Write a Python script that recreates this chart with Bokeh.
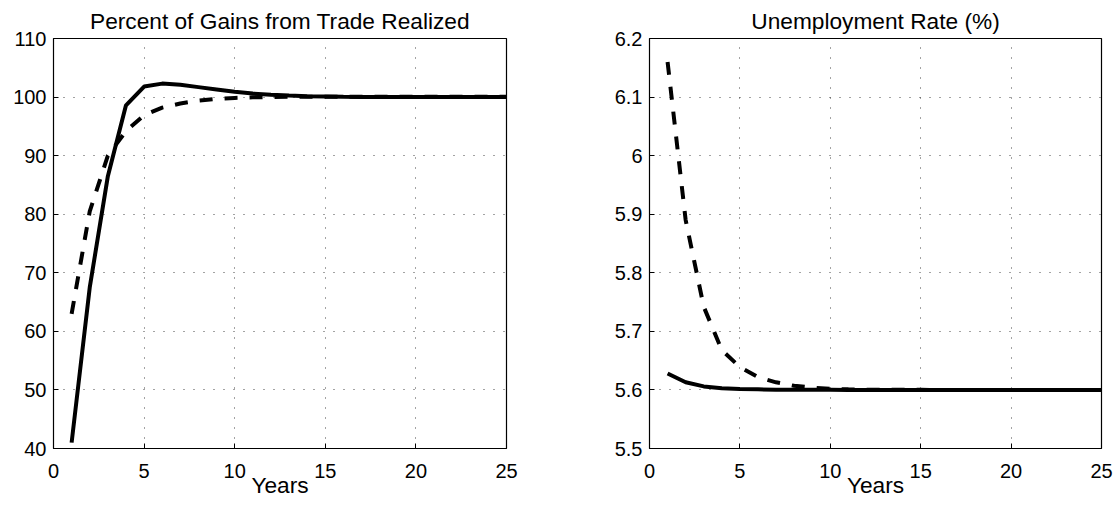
from bokeh.plotting import figure
from bokeh.layouts import row
from bokeh.models import Range1d, FixedTicker, CustomJSTickFormatter
from bokeh.embed import file_html
from bokeh.resources import INLINE

# Years after the trade reform
years = list(range(1, 26))

# Percent of gains from trade realized
gains_solid = [41.0, 67.5, 86.5, 98.6, 101.8, 102.3, 102.1, 101.7, 101.3, 100.9,
               100.6, 100.4, 100.25, 100.15, 100.1, 100.05, 100.03, 100.02, 100.01, 100.0,
               100.0, 100.0, 100.0, 100.0, 100.0]
gains_dashed = [63.0, 80.5, 90.0, 94.2, 96.9, 98.2, 98.9, 99.4, 99.7, 99.85,
                99.95, 100.0, 100.05, 100.05, 100.05, 100.05, 100.05, 100.05, 100.05, 100.05,
                100.05, 100.05, 100.05, 100.05, 100.05]

# Unemployment rate (%)
unemp_solid = [5.628, 5.613, 5.606, 5.603, 5.6015, 5.601, 5.6005, 5.6003, 5.6002, 5.6001,
               5.6, 5.6, 5.6, 5.6, 5.6, 5.6, 5.6, 5.6, 5.6, 5.6,
               5.6, 5.6, 5.6, 5.6, 5.6]
unemp_dashed = [6.16, 5.89, 5.742, 5.668, 5.639, 5.622, 5.613, 5.607, 5.604, 5.602,
                5.601, 5.6005, 5.6003, 5.6002, 5.6001, 5.6, 5.6, 5.6, 5.6, 5.6,
                5.6, 5.6, 5.6, 5.6, 5.6]

x_ticks = [0, 5, 10, 15, 20, 25]
gains_ticks = [40, 50, 60, 70, 80, 90, 100, 110]
unemp_ticks = [5.5, 5.6, 5.7, 5.8, 5.9, 6.0, 6.1, 6.2]

FONT = "Liberation Sans"
TICK_SIZE = "20px"
LABEL_SIZE = "22.7px"


def make_panel(title, ys, y_ticks, border_left, frame_w, border_right, y_fmt=None):
    p = figure(
        output_backend="svg", toolbar_location=None,
        frame_width=frame_w, frame_height=410,
        min_border_left=border_left, min_border_right=border_right,
        min_border_top=38, min_border_bottom=62,
        x_range=Range1d(0, 25), y_range=Range1d(y_ticks[0], y_ticks[-1]),
        background_fill_color="white", border_fill_color="white",
    )
    p.title.text = title
    p.title.align = "center"
    p.title.text_font = FONT
    p.title.text_font_size = LABEL_SIZE
    p.title.text_font_style = "normal"
    p.title.text_color = "black"
    p.title.standoff = 9

    p.outline_line_color = "black"
    p.outline_line_width = 1.2
    p.outline_line_alpha = 1.0

    p.xaxis.ticker = FixedTicker(ticks=x_ticks)
    p.yaxis.ticker = FixedTicker(ticks=y_ticks)
    if y_fmt is not None:
        p.yaxis.formatter = y_fmt
    for ax in (p.xaxis[0], p.yaxis[0]):
        ax.axis_line_color = None
        ax.major_tick_in = 5
        ax.major_tick_out = 0
        ax.major_tick_line_color = "black"
        ax.minor_tick_line_color = None
        ax.major_label_text_font = FONT
        ax.major_label_text_font_size = TICK_SIZE
        ax.major_label_text_color = "black"
    p.xaxis.major_label_standoff = 15
    p.yaxis.major_label_standoff = 7
    p.xaxis.axis_label = "Years"
    p.xaxis.axis_label_text_font = FONT
    p.xaxis.axis_label_text_font_size = LABEL_SIZE
    p.xaxis.axis_label_text_font_style = "normal"
    p.xaxis.axis_label_text_color = "black"
    p.xaxis.axis_label_standoff = -9

    for g in (p.xgrid[0], p.ygrid[0]):
        g.grid_line_color = "#333333"
        g.grid_line_dash = "1 9"
        g.grid_line_width = 1
        g.grid_line_alpha = 0.9

    p.line(years, ys[0], line_color="black", line_width=4)
    p.line(years, ys[1], line_color="black", line_width=4, line_dash="13 12")
    return p


left = make_panel("Percent of Gains from Trade Realized", (gains_solid, gains_dashed),
                  gains_ticks, 53, 453, 40)
right = make_panel("Unemployment Rate (%)", (unemp_solid, unemp_dashed),
                   unemp_ticks, 103, 452, 18,
                   y_fmt=CustomJSTickFormatter(code="return String(Math.round(tick * 10) / 10);"))

layout = row(left, right)
open("out.html", "w").write(file_html(layout, INLINE))
